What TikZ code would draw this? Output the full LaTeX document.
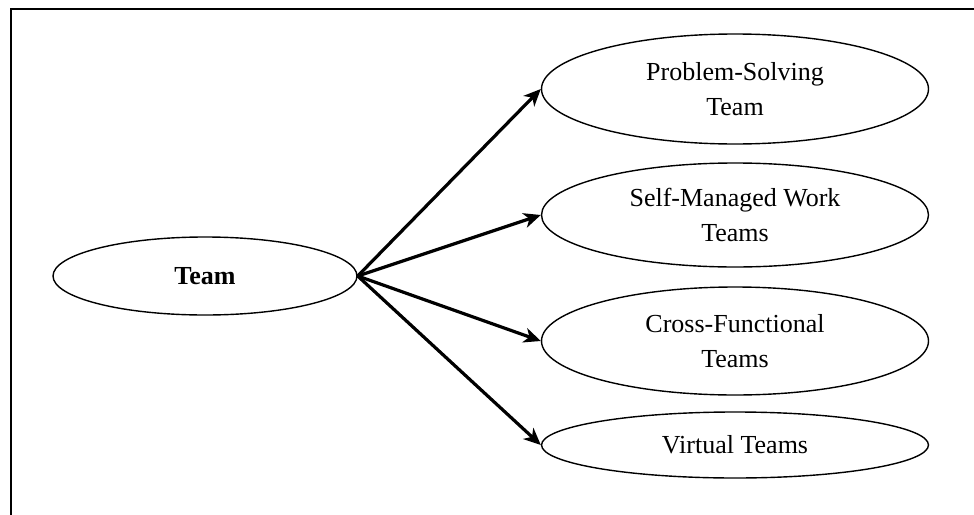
\documentclass[tikz,border=0pt]{standalone}
\usepackage{fontspec}
\setmainfont{Liberation Serif}
\usetikzlibrary{arrows.meta, positioning, shapes.geometric}

\begin{document}
\begin{tikzpicture}[x=0.5pt, y=-0.5pt,
        font=\fontsize{13}{17.5}\selectfont,
        oval/.style={draw, ellipse, line width=0.7pt, align=center,
                     inner sep=0pt, minimum width=193.5pt},
        link/.style={-{Stealth[length=8.5pt, width=7.5pt, inset=2.5pt]},
                     line width=1.6pt}]
        \useasboundingbox (0, 0) rectangle (974, 514);
        % Frame
        \draw[line width=1pt] (11, 520) -- (11, 9) -- (980, 9);
        % Root
        \node[oval, minimum width=152pt, minimum height=39pt] (team)
          at (205, 276) {\textbf{Team}};
        % Kinds of teams
        \node[oval, minimum height=55pt] (prob) at (735, 89)
          {Problem-Solving\\Team};
        \node[oval, minimum height=52pt] (self) at (735, 215)
          {Self-Managed Work\\Teams};
        \node[oval, minimum height=54pt] (cross) at (735, 341)
          {Cross-Functional\\Teams};
        \node[oval, minimum height=33pt] (virt) at (735, 445)
          {Virtual Teams};
        % Arrows
        \draw[link] (team.east) -- (prob.west);
        \draw[link] (team.east) -- (self.west);
        \draw[link] (team.east) -- (cross.west);
        \draw[link] (team.east) -- (virt.west);
      \end{tikzpicture}
\end{document}
